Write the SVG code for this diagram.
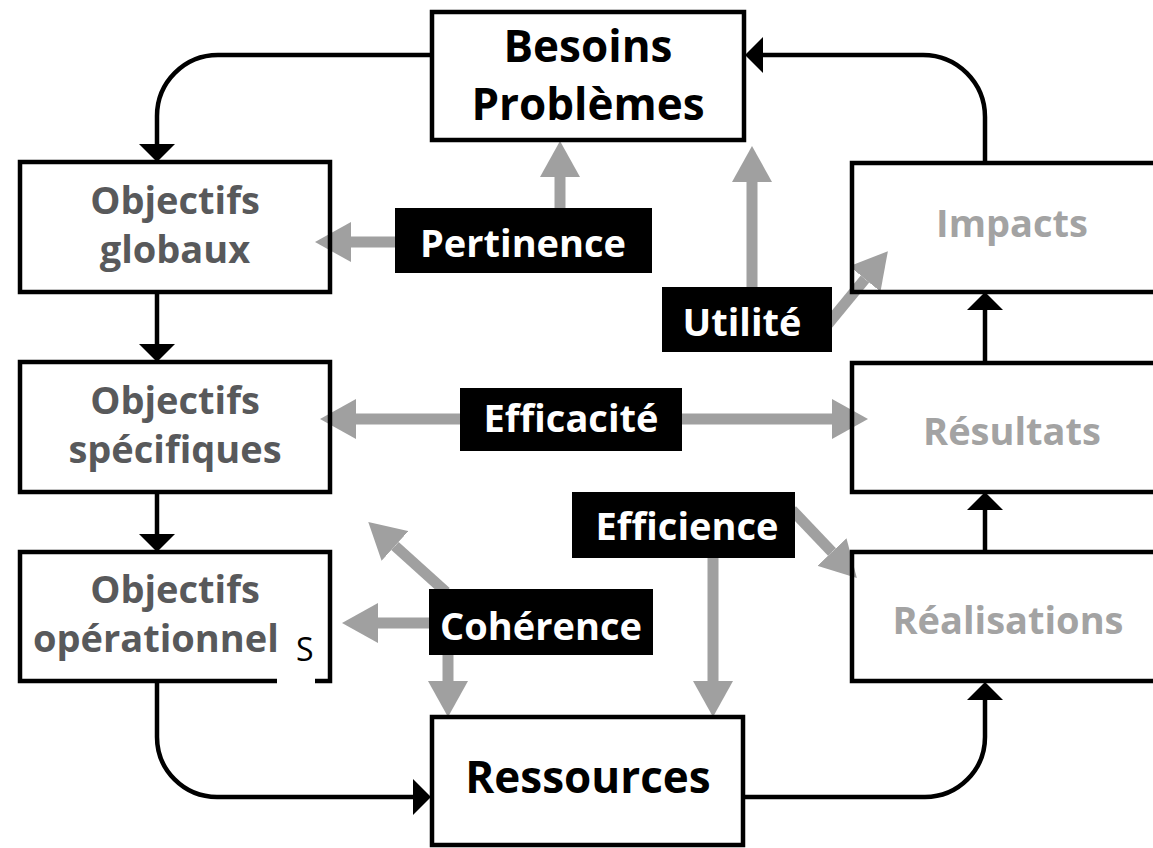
<svg xmlns="http://www.w3.org/2000/svg" width="1153" height="848" viewBox="0 0 1153 848">
<style>
.box{fill:none;stroke:#000;stroke-width:4.5}
.lbl{fill:#000}
.t{font-family:"Open Sans","Noto Sans","DejaVu Sans",sans-serif;font-weight:700;text-anchor:middle}
.big{font-size:44px;fill:#000}
.left{font-size:38px;fill:#58595b}
.right{font-size:38px;fill:#a3a3a3}
.w{font-size:38px;fill:#fff}
.blk{fill:none;stroke:#000;stroke-width:4.5}
.gry{fill:none;stroke:#a0a0a0;stroke-width:11}
</style>
<defs>
<marker id="bh" markerUnits="userSpaceOnUse" viewBox="0 0 18 36" refX="0" refY="18" markerWidth="18" markerHeight="36" orient="auto"><path d="M0,0 L18,18 L0,36 z" fill="#000"/></marker>
<marker id="gh" markerUnits="userSpaceOnUse" viewBox="0 0 36 40" refX="0" refY="20" markerWidth="36" markerHeight="40" orient="auto"><path d="M0,0 L36,20 L0,40 z" fill="#a0a0a0"/></marker>
</defs>
<rect x="0" y="0" width="1153" height="848" fill="#fff"/>
<g id="connectors">
<path class="blk" d="M432,55 H218 A61,61 0 0 0 157,116 V144" marker-end="url(#bh)"/>
<path class="blk" d="M157,292 V344" marker-end="url(#bh)"/>
<path class="blk" d="M157,492 V534" marker-end="url(#bh)"/>
<path class="blk" d="M157,681 V737 A60,60 0 0 0 217,797 H413" marker-end="url(#bh)"/>
<path class="blk" d="M743,797 H925 A60,60 0 0 0 985,737 V700" marker-end="url(#bh)"/>
<path class="blk" d="M985,552 V510" marker-end="url(#bh)"/>
<path class="blk" d="M985,363 V310" marker-end="url(#bh)"/>
<path class="blk" d="M985,163 V117 A62,62 0 0 0 923,55 H763" marker-end="url(#bh)"/>
<path class="gry" d="M560,210 V177" marker-end="url(#gh)"/>
<path class="gry" d="M397,242 H351" marker-end="url(#gh)"/>
<path class="gry" d="M752,290 V182" marker-end="url(#gh)"/>
<path class="gry" d="M828,324 L865,279" marker-end="url(#gh)"/>
<path class="gry" d="M462,419 H356" marker-end="url(#gh)"/>
<path class="gry" d="M680,419 H832" marker-end="url(#gh)"/>
<path class="gry" d="M713,556 V681" marker-end="url(#gh)"/>
<path class="gry" d="M792,510 L832,552" marker-end="url(#gh)"/>
<path class="gry" d="M431,623 H378" marker-end="url(#gh)"/>
<path class="gry" d="M446,592 L395,546" marker-end="url(#gh)"/>
<path class="gry" d="M448,653 V681" marker-end="url(#gh)"/>
</g>
<g id="besoins">
<rect class="box" x="432" y="12" width="312" height="128"/>
<text class="t big" x="588" y="62">Besoins</text>
<text class="t big" x="588" y="120">Problèmes</text>
</g>
<g id="objectifs-globaux">
<rect class="box" x="20" y="162" width="310" height="130"/>
<text class="t left" x="175" y="214">Objectifs</text>
<text class="t left" x="175" y="263">globaux</text>
</g>
<g id="objectifs-specifiques">
<rect class="box" x="20" y="362" width="310" height="130"/>
<text class="t left" x="175" y="414">Objectifs</text>
<text class="t left" x="175" y="463">spécifiques</text>
</g>
<g id="objectifs-operationnels">
<rect class="box" x="20" y="552" width="310" height="129"/>
<text class="t left" x="175" y="603">Objectifs</text>
<text class="t left" x="33" y="652" style="text-anchor:start">opérationnels</text>
<rect x="277" y="622" width="38" height="62" fill="#fff"/>
<text x="296" y="661" style="font-family:'Open Sans','DejaVu Sans',sans-serif;font-size:32px;fill:#000">S</text>
</g>
<g id="ressources">
<rect class="box" x="432" y="717" width="311" height="128"/>
<text class="t big" x="588" y="793">Ressources</text>
</g>
<g id="impacts">
<rect class="box" x="852" y="163" width="330" height="129"/>
<text class="t right" x="1012" y="237">Impacts</text>
</g>
<g id="resultats">
<rect class="box" x="852" y="363" width="330" height="129"/>
<text class="t right" x="1012" y="445">Résultats</text>
</g>
<g id="realisations">
<rect class="box" x="852" y="552" width="330" height="129"/>
<text class="t right" x="1008" y="634">Réalisations</text>
</g>
<g id="pertinence">
<rect class="lbl" x="395" y="208" width="257" height="65"/>
<text class="t w" x="523" y="257">Pertinence</text>
</g>
<g id="utilite">
<rect class="lbl" x="662" y="287" width="170" height="65"/>
<text class="t w" x="742" y="336">Utilité</text>
</g>
<g id="efficacite">
<rect class="lbl" x="460" y="388" width="222" height="63"/>
<text class="t w" x="571" y="432">Efficacité</text>
</g>
<g id="efficience">
<rect class="lbl" x="572" y="492" width="223" height="66"/>
<text class="t w" x="687" y="540">Efficience</text>
</g>
<g id="coherence">
<rect class="lbl" x="429" y="589" width="224" height="66"/>
<text class="t w" x="541" y="640">Cohérence</text>
</g>
</svg>
